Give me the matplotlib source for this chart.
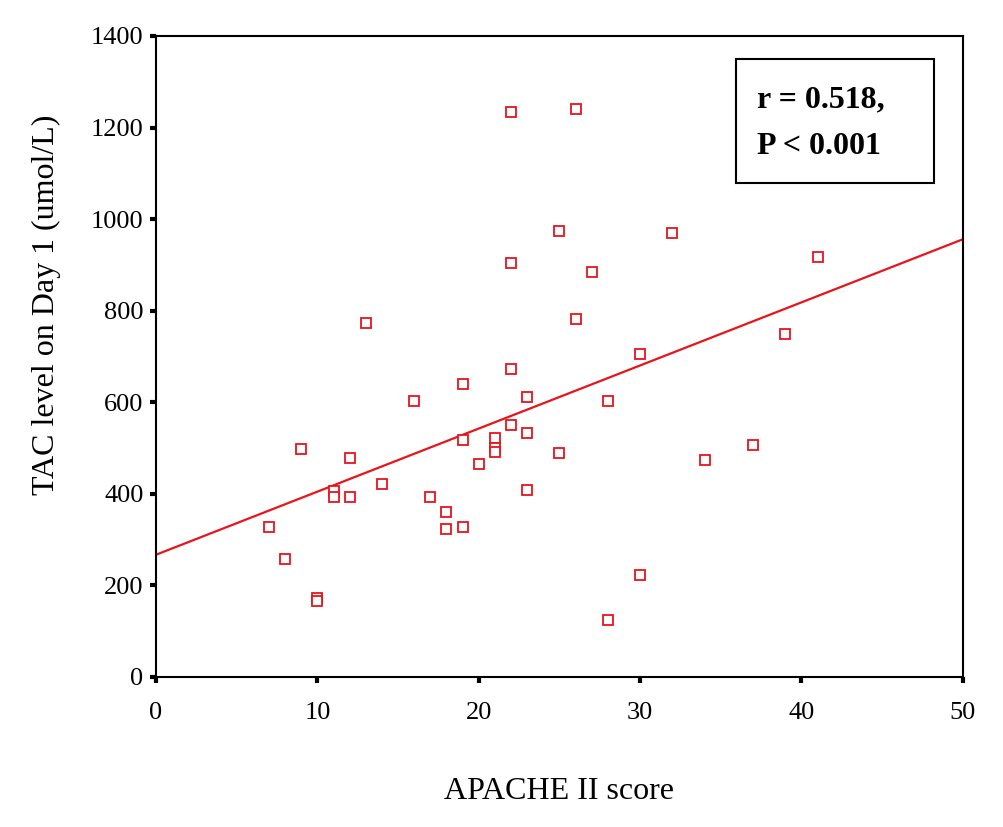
import matplotlib.pyplot as plt
import numpy as np
from matplotlib.patches import Rectangle

plt.rcParams["font.family"] = ["Liberation Serif", "DejaVu Serif"]

# APACHE II score vs TAC level on day 1
apache = [7, 8, 9, 10, 10, 11, 11, 12, 12, 13, 14, 16, 17, 18, 18, 19, 19, 19,
          20, 21, 21, 21, 22, 22, 22, 22, 23, 23, 23, 25, 25, 26, 26, 27, 28, 28,
          30, 30, 32, 34, 37, 39, 41]
tac = [328, 258, 497, 172, 166, 406, 394, 478, 393, 773, 422, 603, 393, 360, 323,
       328, 517, 640, 465, 521, 500, 491, 550, 672, 904, 1234, 611, 533, 408, 975,
       489, 1240, 781, 885, 603, 125, 705, 222, 970, 473, 507, 749, 917]

# fitted line
fit_intercept = 267
fit_slope = 13.78

x_ticks = [0, 10, 20, 30, 40, 50]
y_ticks = [0, 200, 400, 600, 800, 1000, 1200, 1400]

red = "#e8141c"

fig = plt.figure(figsize=(10.04, 8.27), dpi=100)
ax = fig.add_axes([0.1554, 0.1814, 0.8036, 0.7751])

xs = np.array([0, 50])
ax.plot(xs, fit_intercept + fit_slope * xs, color=red, lw=1.6, zorder=2)
ax.plot(apache, tac, ls="none", marker="s", markersize=7, markerfacecolor="white",
        markeredgecolor=red, markeredgewidth=1.3, zorder=3)

ax.set_xlim(0, 50)
ax.set_ylim(0, 1400)
ax.set_xticks(x_ticks)
ax.set_yticks(y_ticks)
ax.tick_params(direction="out", length=4, width=3, labelsize=19, colors="black")
ax.tick_params(axis="x", pad=14)
ax.tick_params(axis="y", pad=5)
for s in ax.spines.values():
    s.set_linewidth(1.5)

ax.set_xlabel("APACHE II score", fontsize=23, labelpad=38)
ax.set_ylabel("TAC level on Day 1 (umol/L)", fontsize=23)
ax.yaxis.set_label_coords(-0.118, 0.58)

ax.add_patch(Rectangle((0.719, 0.771), 0.245, 0.193, transform=ax.transAxes,
                       fill=False, edgecolor="black", lw=1.5, zorder=4))
ax.text(0.745, 0.900, "r = 0.518,", transform=ax.transAxes, fontsize=23,
        fontweight="bold", va="center", ha="left")
ax.text(0.745, 0.827, "P < 0.001", transform=ax.transAxes, fontsize=23,
        fontweight="bold", va="center", ha="left")

fig.savefig("out.png", dpi=100)
